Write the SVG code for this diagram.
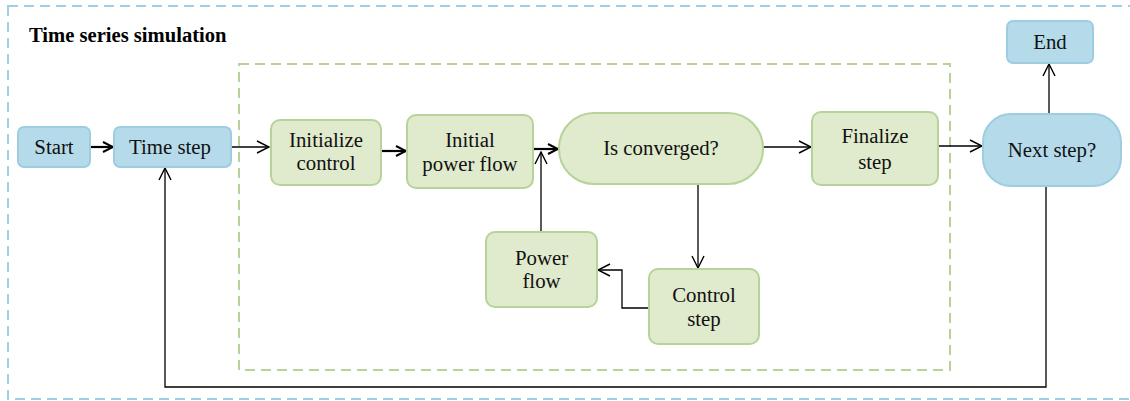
<svg xmlns="http://www.w3.org/2000/svg" width="1130" height="401" viewBox="0 0 1130 401">
<defs>
<style>
.blue{fill:#b5dbea;stroke:#9ecde2;stroke-width:2}
.green{fill:#e0eacc;stroke:#b6d399;stroke-width:2}
.t{font-family:"Liberation Serif","Times New Roman",serif;font-size:20.8px;fill:#111;text-anchor:middle}
.title{font-family:"Liberation Serif","Times New Roman",serif;font-size:20.6px;font-weight:bold;fill:#000}
.thin{fill:none;stroke:#000;stroke-width:1.3}
.thick{fill:none;stroke:#000;stroke-width:2.2}
</style>
<marker id="ah" viewBox="0 0 14 14" refX="13" refY="7" markerWidth="14" markerHeight="14" markerUnits="userSpaceOnUse" orient="auto">
<path d="M1,1 L13,7 L1,13" fill="none" stroke="#000" stroke-width="1.4"/>
</marker>
<marker id="ahb" viewBox="0 0 12 12" refX="11" refY="6" markerWidth="12" markerHeight="12" markerUnits="userSpaceOnUse" orient="auto">
<path d="M1,1 L11,6 L1,11" fill="none" stroke="#000" stroke-width="2"/>
</marker>
</defs>
<rect width="1130" height="401" fill="#fff"/>
<g id="group-outer">
<rect x="8" y="6" width="1140" height="393" fill="none" stroke="#9ed0e4" stroke-width="2" stroke-dasharray="10,6"/>
<text class="title" x="29" y="42">Time series simulation</text>
</g>
<g id="group-inner">
<rect x="239" y="64" width="711" height="306" fill="none" stroke="#b6d399" stroke-width="2" stroke-dasharray="10,6"/>
</g>
<g id="connectors">
<path class="thick" d="M90,147 L113,147" marker-end="url(#ahb)"/>
<path class="thin" d="M231,147 L269,147" marker-end="url(#ah)"/>
<path class="thick" d="M381,151 L406,151" marker-end="url(#ahb)"/>
<path class="thick" d="M533,149 L558,149" marker-end="url(#ahb)"/>
<path class="thin" d="M541,232 L541,152" marker-end="url(#ah)"/>
<path class="thin" d="M763,147 L811,147" marker-end="url(#ah)"/>
<path class="thin" d="M698,184 L698,268" marker-end="url(#ah)"/>
<path class="thin" d="M649,308 L622,308 L622,270 L598,270" marker-end="url(#ah)"/>
<path class="thin" d="M938,146 L982,146" marker-end="url(#ah)"/>
<path class="thin" d="M1049,114 L1049,64" marker-end="url(#ah)"/>
<path class="thin" d="M1046,186 L1046,387 L165,387 L165,168" marker-end="url(#ah)" stroke-width="1.6"/>
</g>
<g id="node-start">
<rect class="blue" x="18" y="127" width="72" height="40" rx="6"/>
<text class="t" x="54" y="154">Start</text>
</g>
<g id="node-timestep">
<rect class="blue" x="114" y="127" width="117" height="40" rx="6"/>
<text class="t" x="170" y="154">Time step</text>
</g>
<g id="node-initcontrol">
<rect class="green" x="271" y="120" width="110" height="65" rx="9"/>
<text class="t" x="326" y="147">Initialize</text>
<text class="t" x="326" y="170">control</text>
</g>
<g id="node-initpf">
<rect class="green" x="407" y="115" width="126" height="73" rx="9"/>
<text class="t" x="470" y="147">Initial</text>
<text class="t" x="470" y="171">power flow</text>
</g>
<g id="node-converged">
<rect class="green" x="559" y="113" width="204" height="71" rx="35"/>
<text class="t" x="661" y="155">Is converged?</text>
</g>
<g id="node-finalize">
<rect class="green" x="812" y="112" width="126" height="73" rx="9"/>
<text class="t" x="875" y="143">Finalize</text>
<text class="t" x="875" y="169">step</text>
</g>
<g id="node-nextstep">
<rect class="blue" x="983" y="114" width="138" height="72" rx="28"/>
<text class="t" x="1052" y="157">Next step?</text>
</g>
<g id="node-end">
<rect class="blue" x="1007" y="21" width="86" height="42" rx="6"/>
<text class="t" x="1050" y="49">End</text>
</g>
<g id="node-powerflow">
<rect class="green" x="486" y="232" width="111" height="75" rx="9"/>
<text class="t" x="541.5" y="265">Power</text>
<text class="t" x="541.5" y="288">flow</text>
</g>
<g id="node-controlstep">
<rect class="green" x="649" y="269" width="110" height="75" rx="9"/>
<text class="t" x="704" y="302">Control</text>
<text class="t" x="704" y="326">step</text>
</g>
</svg>
